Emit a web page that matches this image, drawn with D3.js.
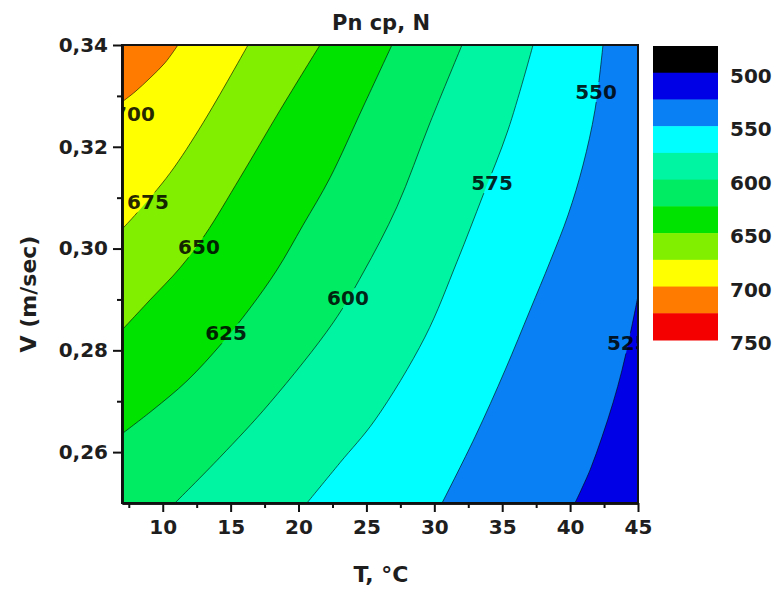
<!DOCTYPE html>
<html>
<head>
<meta charset="utf-8">
<script src="https://cdn.jsdelivr.net/npm/d3@7"></script>
<style>
  html, body { margin: 0; padding: 0; background: #fff; }
  svg { display: block; }
  text { font-family: "DejaVu Sans", sans-serif; font-weight: bold; fill: #1e1e1e; }
</style>
</head>
<body>
<svg id="chart" width="777" height="590"></svg>
<script>
// Contour lines, as [T (°C), V (m/sec)] pairs.
// Each one runs from its bottom/left end to its top/right end.
const c525 = [[40.36, 0.25], [41.47, 0.2565], [42.35, 0.2630], [43.16, 0.2697], [43.82, 0.2761], [44.41, 0.2830], [45.00, 0.2907]];
const c550 = [[30.57, 0.25], [33.00, 0.2630], [35.21, 0.2761], [37.05, 0.2879], [38.52, 0.2974], [39.85, 0.3066], [40.95, 0.3164], [41.83, 0.3272], [42.42, 0.34]];
const c575 = [[20.62, 0.25], [23.05, 0.2579], [25.63, 0.2663], [29.31, 0.2826], [31.67, 0.2974], [33.59, 0.3105], [35.43, 0.3233], [37.27, 0.34]];
const c600 = [[10.90, 0.25], [14.22, 0.2590], [17.90, 0.2697], [22.54, 0.2854], [24.75, 0.2952], [27.25, 0.3082], [29.68, 0.3247], [32.04, 0.34]];
const c625 = [[7.00, 0.2636], [9.28, 0.2683], [11.79, 0.2740], [14.36, 0.2814], [16.43, 0.2883], [18.41, 0.2958], [20.33, 0.3046], [22.32, 0.3139], [24.75, 0.3278], [26.88, 0.34]];
const c650 = [[7.00, 0.2840], [9.06, 0.2899], [11.27, 0.2962], [13.11, 0.3027], [15.69, 0.3139], [18.64, 0.3272], [21.58, 0.34]];
const c675 = [[7.00, 0.3038], [8.10, 0.3070], [10.53, 0.3148], [12.97, 0.3247], [16.28, 0.34]];
const c700 = [[7.00, 0.3288], [7.96, 0.3308], [9.06, 0.3335], [10.17, 0.3365], [11.12, 0.34]];

const contourLevels = [525, 550, 575, 600, 625, 650, 675, 700];
const contourLines = [c525, c550, c575, c600, c625, c650, c675, c700];
// where Origin put the in-line level labels (label centres)
const contourLabelAt = [[44.25, 0.2814], [41.91, 0.3308], [34.25, 0.3129], [23.64, 0.2903],
                        [14.66, 0.2834], [12.67, 0.3003], [8.91, 0.3091], [7.88, 0.3264]];

// colour map: band i covers bandLevels[i] .. bandLevels[i + 1]
const bandLevels = [475, 500, 525, 550, 575, 600, 625, 650, 675, 700, 725, 750];
const bandColors = ['#000000', '#0000e6', '#0a80f5', '#00ffff', '#00f5a3', '#00ec62',
                    '#00e200', '#80f000', '#ffff00', '#ff7b00', '#f40000'];
const legendTicks = [500, 550, 600, 650, 700, 750];

const xTicks = [10, 15, 20, 25, 30, 35, 40, 45];
const xMinorTicks = [7.5, 12.5, 17.5, 22.5, 27.5, 32.5, 37.5, 42.5];
const yTicks = [0.26, 0.28, 0.30, 0.32, 0.34];
const yMinorTicks = [0.27, 0.29, 0.31, 0.33];

const plot = { left: 122, right: 638, top: 45, bottom: 503 };
const legendBox = { left: 653, width: 65, top: 46, bottom: 340 };

const svg = d3.select('#chart');
const x = d3.scaleLinear().domain([7, 45]).range([plot.left, plot.right]);
const y = d3.scaleLinear().domain([0.25, 0.34]).range([plot.bottom, plot.top]);
const color = d3.scaleThreshold().domain(bandLevels.slice(1, -1)).range(bandColors);

const defs = svg.append('defs');
defs.append('clipPath').attr('id', 'plot-clip')
    .append('rect')
    .attr('x', plot.left).attr('y', plot.top)
    .attr('width', plot.right - plot.left).attr('height', plot.bottom - plot.top);

const line = d3.line().x((d) => x(d[0])).y((d) => y(d[1])).curve(d3.curveCatmullRom.alpha(0.5));

// Region above a contour (towards the top-left corner, where Pn grows).
// Closed through points outside the frame; the clip trims them off.
function upperRegion(pts) {
    const pad = 60;
    const a = pts[0], b = pts[pts.length - 1];
    const ax = x(a[0]), ay = y(a[1]), bx = x(b[0]), by = y(b[1]);
    const L = plot.left - pad, R = plot.right + pad, T = plot.top - pad, B = plot.bottom + pad;
    let d = line(pts);
    if (b[1] >= 0.34 - 1e-6) d += `L${bx},${T}`;
    else d += `L${R},${by}L${R},${T}`;
    d += `L${L},${T}`;
    if (a[0] <= 7 + 1e-6) d += `L${L},${ay}`;
    else d += `L${L},${B}L${ax},${B}`;
    return d + 'Z';
}

const gPlot = svg.append('g').attr('clip-path', 'url(#plot-clip)');

// painter's order: lowest band as the background, then each level on top
gPlot.append('rect')
    .attr('x', plot.left).attr('y', plot.top)
    .attr('width', plot.right - plot.left).attr('height', plot.bottom - plot.top)
    .attr('fill', color(500));

gPlot.append('g').attr('class', 'bands')
    .selectAll('path')
    .data(contourLevels.map((lv, i) => ({ level: lv, pts: contourLines[i] })))
    .join('path')
    .attr('d', (d) => upperRegion(d.pts))
    .attr('fill', (d) => color(d.level));

// labels first so the lines can be cut where they sit
const gLines = gPlot.append('g').attr('class', 'contour-lines');
const gLabels = gPlot.append('g').attr('class', 'contour-labels');

const labels = gLabels.selectAll('text')
    .data(contourLevels.map((lv, i) => ({ level: lv, at: contourLabelAt[i] })))
    .join('text')
    .attr('x', (d) => x(d.at[0]))
    .attr('y', (d) => y(d.at[1]))
    .attr('dy', '0.36em')
    .attr('text-anchor', 'middle')
    .attr('font-size', 20)
    .style('fill', '#000')
    .style('fill-opacity', 0.85)
    .text((d) => d.level);

const mask = defs.append('mask').attr('id', 'label-gaps')
    .attr('maskUnits', 'userSpaceOnUse')
    .attr('x', 0).attr('y', 0).attr('width', 777).attr('height', 590);
mask.append('rect').attr('x', 0).attr('y', 0).attr('width', 777).attr('height', 590).attr('fill', '#fff');
labels.each(function () {
    const bb = this.getBBox();
    mask.append('rect')
        .attr('x', bb.x - 1).attr('y', bb.y + 2)
        .attr('width', bb.width + 2).attr('height', bb.height - 4)
        .attr('fill', '#000');
});

gLines.attr('mask', 'url(#label-gaps)')
    .selectAll('path')
    .data(contourLines)
    .join('path')
    .attr('d', line)
    .attr('fill', 'none')
    .attr('stroke', '#000')
    .attr('stroke-opacity', 0.6)
    .attr('stroke-width', 1);

// frame
svg.append('rect')
    .attr('x', plot.left).attr('y', plot.top)
    .attr('width', plot.right - plot.left).attr('height', plot.bottom - plot.top)
    .attr('fill', 'none').attr('stroke', '#141414').attr('stroke-width', 2);

// axes
const commaFmt = (d) => d3.format('.2f')(d).replace('.', ',');

function styleAxis(g) {
    g.select('.domain').attr('stroke', '#111').attr('stroke-width', 2.5);
    g.selectAll('.tick line').attr('stroke', '#111').attr('stroke-width', 2);
    g.selectAll('.tick text')
        .attr('font-family', null).attr('font-size', 20).style('fill', '#1e1e1e');
    g.attr('font-family', null).attr('font-size', null);
}

const gx = svg.append('g').attr('transform', `translate(0,${plot.bottom})`);
gx.append('g').call(d3.axisBottom(x).tickValues(xMinorTicks).tickSize(5).tickSizeOuter(0).tickFormat(''))
    .call(styleAxis);
gx.append('g').call(d3.axisBottom(x).tickValues(xTicks).tickSize(9).tickSizeOuter(0).tickPadding(8))
    .call(styleAxis);

const gy = svg.append('g').attr('transform', `translate(${plot.left},0)`);
gy.append('g').call(d3.axisLeft(y).tickValues(yMinorTicks).tickSize(5).tickSizeOuter(0).tickFormat(''))
    .call(styleAxis);
gy.append('g').call(d3.axisLeft(y).tickValues(yTicks).tickSize(9).tickSizeOuter(0).tickPadding(5).tickFormat(commaFmt))
    .call(styleAxis);

// titles
svg.append('text')
    .attr('x', 381).attr('y', 30)
    .attr('text-anchor', 'middle').attr('font-size', 21)
    .text('Pn cp, N');

svg.append('text')
    .attr('x', 381).attr('y', 582)
    .attr('text-anchor', 'middle').attr('font-size', 22)
    .text('T, °C');

svg.append('text')
    .attr('transform', 'translate(36,294) rotate(-90)')
    .attr('text-anchor', 'middle').attr('font-size', 22)
    .text('V (m/sec)');

// colour scale legend
const ly = d3.scaleLinear().domain([bandLevels[0], bandLevels[bandLevels.length - 1]])
    .range([legendBox.top, legendBox.bottom]);

const gLegend = svg.append('g').attr('class', 'legend');
gLegend.selectAll('rect')
    .data(d3.range(bandColors.length))
    .join('rect')
    .attr('x', legendBox.left)
    .attr('y', (i) => ly(bandLevels[i]))
    .attr('width', legendBox.width)
    .attr('height', (i) => ly(bandLevels[i + 1]) - ly(bandLevels[i]) + 0.5)
    .attr('fill', (i) => bandColors[i]);

gLegend.selectAll('text')
    .data(legendTicks)
    .join('text')
    .attr('x', legendBox.left + legendBox.width + 12)
    .attr('y', (d) => ly(d) + 3)
    .attr('dy', '0.36em')
    .attr('font-size', 20)
    .text((d) => d);
</script>
</body>
</html>
